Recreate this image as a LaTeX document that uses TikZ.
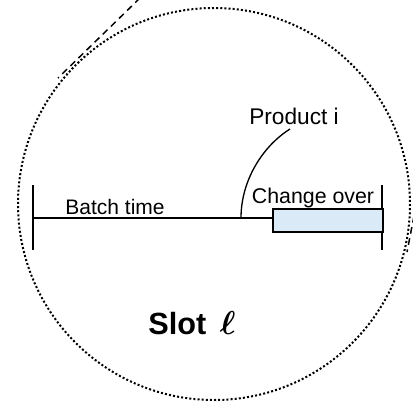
\documentclass[tikz,border=0pt]{standalone}
\usepackage{fontspec}
\setmainfont{Liberation Sans}
\usepackage{amsmath,bm}
\usetikzlibrary{positioning}

\tikzset{
    lbl/.style={anchor=base, inner sep=0.75pt},
    tickline/.style={line width=1.5},
}

\begin{document}
\begin{tikzpicture}[x=0.75pt,y=0.75pt,yscale=-1,xscale=1]
    \useasboundingbox (0,0) rectangle (413,407);

    %Dotted circle
    \draw [line width=1.5pt, dash pattern={on 1.5pt off 1.6pt}] (214,204) circle [radius=196];
    %Dashed lines
    \draw [line width=1.1, dash pattern={on 5pt off 3.5pt}] (140,-2) -- (58,78);
    \draw [line width=1.1, dash pattern={on 5pt off 3.5pt}] (414,216) -- (407,252);

    %Ends of the slot
    \coordinate (lt) at (33,185);
    \coordinate (lb) at (33,250);
    \coordinate (rt) at (382,185);
    \coordinate (rb) at (382,250);
    \coordinate (ls) at (33,218);
    \draw [tickline] (lt) -- (lb);
    \draw [tickline] (rt) -- (rb);

    % Change over box
    \node (co) [draw, line width=1.5, fill={rgb,255:red,218;green,235;blue,247}, anchor=north west, inner sep=0pt, minimum width=82.5pt, minimum height=17pt] at (272,208) {};
    %Straight Lines
    \draw [line width=1] (ls) -- (ls -| co.west);

    % Text Node
    \node (bt) [lbl, font=\fontsize{15.75}{18}\selectfont] at (115,214) {Batch time};
    % Text Node
    \node (chg) [lbl, font=\fontsize{16}{19}\selectfont] at (313,203) {Change over};
    % Text Node
    \node (pi) [lbl, font=\fontsize{17}{20}\selectfont] at (294,124) {Product i};
    % Text Node
    \node (slot) [lbl, font=\fontsize{23}{27}\selectfont\bfseries] at (192,334) {Slot \,$\bm{\ell}$};

    %Curve from the label down to the line
    \coordinate (pc) at (290,129);
    \coordinate (lc) at (241,218);
    \draw [line width=1] (pc) .. controls (263,146) and (241,180) .. (lc);
\end{tikzpicture}
\end{document}
